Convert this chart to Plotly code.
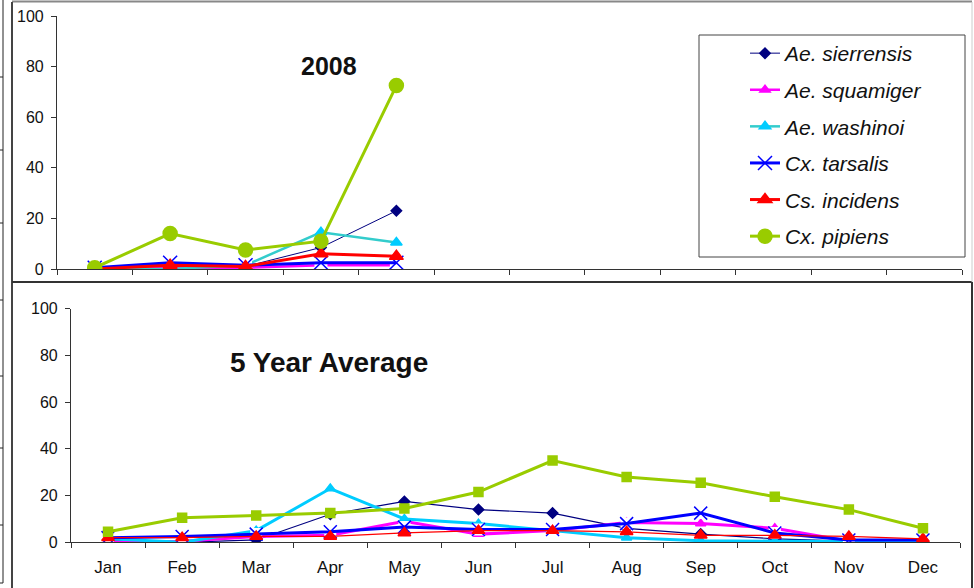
import plotly.graph_objects as go

W, H = 974, 588

months = ["Jan", "Feb", "Mar", "Apr", "May", "Jun", "Jul", "Aug", "Sep", "Oct", "Nov", "Dec"]
months_2008 = ["Jan", "Feb", "Mar", "Apr", "May"]
y_ticks = [0, 20, 40, 60, 80, 100]

species = ["Ae. sierrensis", "Ae. squamiger", "Ae. washinoi", "Cx. tarsalis", "Cs. incidens", "Cx. pipiens"]

# 2008 (Jan-May)
sierrensis_2008 = [0, 1, 1, 8.5, 23]
squamiger_2008 = [0, 0.5, 0.5, 1.5, 1.5]
washinoi_2008 = [0, 0, 1.5, 14.5, 10.5]
tarsalis_2008 = [0.5, 2.5, 1.5, 2.5, 2.5]
incidens_2008 = [0, 1.5, 1, 6, 5]
pipiens_2008 = [0.5, 14, 7.5, 11, 72.5]

# 5 year average
sierrensis_avg = [1, 0, 1, 12, 17.5, 14, 12.5, 6, 3.5, 1.5, 0.5, 0.5]
squamiger_avg = [0, 0.5, 2.5, 3, 9, 3.5, 5, 8.5, 8, 6, 0.5, 0.5]
washinoi_avg = [1.5, 0, 5, 23, 10, 8, 5, 2, 0.7, 0.5, 0, 0]
tarsalis_avg = [2, 2.5, 3.5, 4.5, 6.5, 5.5, 5.5, 8, 12.5, 4, 1, 1]
incidens_avg = [2, 2, 2.5, 2.5, 4, 5, 5, 4.5, 3, 3, 2.5, 1.5]
pipiens_avg = [4.5, 10.5, 11.5, 12.5, 14.5, 21.5, 35, 28, 25.5, 19.5, 14, 6]

FONT = "Liberation Sans, Arial, sans-serif"

def px(x):
    return x / W

def py(y):
    return 1 - y / H

fig = go.Figure()

top_styles = [
    dict(lc="#000080", lw=1, sym="diamond", ms=8, mc="#000080"),
    dict(lc="#FF00FF", lw=2.5, sym="triangle-up", ms=9, mc="#FF00FF"),
    dict(lc="#33CCCC", lw=2.5, sym="triangle-up", ms=10, mc="#00CCFF"),
    dict(lc="#0000FF", lw=3, sym="x-thin-open", ms=14, mc="#0000FF"),
    dict(lc="#FF0000", lw=3, sym="triangle-up", ms=12, mc="#FF0000"),
    dict(lc="#99CC00", lw=3, sym="circle", ms=14, mc="#99CC00"),
]
bot_styles = [
    dict(lc="#000080", lw=1.2, sym="diamond", ms=8, mc="#000080"),
    dict(lc="#FF00FF", lw=3, sym="triangle-up", ms=9, mc="#FF00FF"),
    dict(lc="#00CCFF", lw=3, sym="triangle-up", ms=9, mc="#00CCFF"),
    dict(lc="#0000FF", lw=3, sym="x-thin-open", ms=13, mc="#0000FF"),
    dict(lc="#FF0000", lw=1.3, sym="triangle-up", ms=11, mc="#FF0000"),
    dict(lc="#99CC00", lw=3, sym="square", ms=9, mc="#99CC00"),
]

top_data = [sierrensis_2008, squamiger_2008, washinoi_2008, tarsalis_2008, incidens_2008, pipiens_2008]
bot_data = [sierrensis_avg, squamiger_avg, washinoi_avg, tarsalis_avg, incidens_avg, pipiens_avg]

for name, ys, st in zip(species, top_data, top_styles):
    if st["sym"].startswith("x"):
        fig.add_trace(go.Scatter(x=months_2008, y=ys, mode="markers", showlegend=False,
                                 marker=dict(symbol="square", size=13, color="white"),
                                 xaxis="x", yaxis="y", hoverinfo="skip"))
    fig.add_trace(go.Scatter(
        x=months_2008, y=ys, name=name, mode="lines+markers", legendgroup=name,
        line=dict(color=st["lc"], width=st["lw"]),
        marker=dict(symbol=st["sym"], size=st["ms"], color=st["mc"],
                    line=dict(color=st["mc"], width=1.5)),
        xaxis="x", yaxis="y"))

for name, ys, st in zip(species, bot_data, bot_styles):
    if st["sym"].startswith("x"):
        fig.add_trace(go.Scatter(x=months, y=ys, mode="markers", showlegend=False,
                                 marker=dict(symbol="square", size=12, color="white"),
                                 xaxis="x2", yaxis="y2", hoverinfo="skip"))
    fig.add_trace(go.Scatter(
        x=months, y=ys, name=name, mode="lines+markers", legendgroup=name, showlegend=False,
        line=dict(color=st["lc"], width=st["lw"]),
        marker=dict(symbol=st["sym"], size=st["ms"], color=st["mc"],
                    line=dict(color=st["mc"], width=1.5)),
        xaxis="x2", yaxis="y2"))

axis_common = dict(showline=True, linecolor="#333333", linewidth=1.2, ticks="outside",
                   tickcolor="#333333", ticklen=5, showgrid=False, zeroline=False,
                   automargin=False)
ytickfont = dict(family=FONT, size=16, color="#111111")
xtickfont = dict(family=FONT, size=17, color="#111111")

fig.update_layout(
    width=W, height=H,
    margin=dict(l=0, r=0, t=0, b=0, autoexpand=False),
    paper_bgcolor="white", plot_bgcolor="white",
    showlegend=True,
    xaxis=dict(domain=[px(57), px(962)], anchor="y", type="category",
               categoryorder="array", categoryarray=months, range=[-0.5, 11.5],
               tickson="boundaries", showticklabels=False, tickfont=xtickfont, **axis_common),
    yaxis=dict(domain=[py(269), py(16)], anchor="x", range=[0, 100], tickvals=y_ticks,
               ticklabelstandoff=4, tickfont=ytickfont, **axis_common),
    xaxis2=dict(domain=[px(71), px(960)], anchor="y2", type="category",
                categoryorder="array", categoryarray=months, range=[-0.5, 11.5],
                tickson="boundaries", tickfont=xtickfont, ticklabelstandoff=9, **axis_common),
    yaxis2=dict(domain=[py(542.3), py(308.7)], anchor="x2", range=[0, 100], tickvals=y_ticks,
                ticklabelstandoff=4, tickfont=ytickfont, **axis_common),
    legend=dict(x=px(745), y=py(33), xanchor="left", yanchor="top",
                bgcolor="rgba(0,0,0,0)", borderwidth=0, tracegroupgap=6.3,
                font=dict(family=FONT, size=21, color="#111111", style="italic")),
    annotations=[
        dict(text="<b>2008</b>", x=px(329), y=py(50), xref="paper", yref="paper",
             showarrow=False, font=dict(family=FONT, size=25, color="#111111")),
        dict(text="<b>5 Year Average</b>", x=px(329), y=py(362), xref="paper", yref="paper",
             showarrow=False, font=dict(family=FONT, size=28, color="#111111")),
    ],
)

shapes = []
def line(x0, y0, x1, y1, color, width):
    shapes.append(dict(type="line", xref="paper", yref="paper",
                       x0=px(x0), y0=py(y0), x1=px(x1), y1=py(y1),
                       line=dict(color=color, width=width)))

line(12, 1.5, 972, 1.5, "#888888", 2)
line(12, 2, 12, 588, "#444444", 2)
line(12, 282, 972, 282, "#333333", 2)
line(972, 2, 972, 282, "#cccccc", 1)
line(972, 282, 972, 588, "#333333", 2)
line(3, 0, 3, 583, "#222222", 1)
for yy in [77, 150, 223, 300, 376, 448, 525, 583]:
    line(0, yy, 3, yy, "#222222", 1)
shapes.append(dict(type="rect", xref="paper", yref="paper",
                   x0=px(699), y0=py(257), x1=px(965), y1=py(35),
                   line=dict(color="#444444", width=1), fillcolor="rgba(0,0,0,0)"))
fig.update_layout(shapes=shapes)

fig.write_html("out.html", config={"displayModeBar": False},
               post_script="document.body.style.margin='0';document.body.style.overflow='hidden';")
